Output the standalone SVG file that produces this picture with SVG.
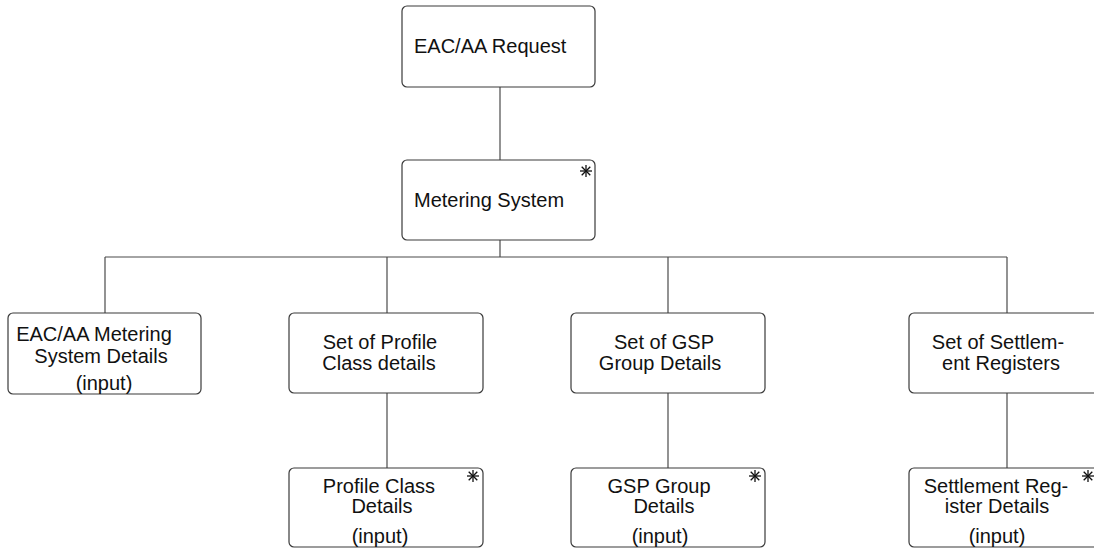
<svg xmlns="http://www.w3.org/2000/svg" width="1094" height="548" viewBox="0 0 1094 548">
<style>
.box{fill:#fff;stroke:#3a3a3a;stroke-width:1.2}
.t{font-family:"Liberation Sans",Arial,sans-serif;font-size:20px;fill:#111}
.m{text-anchor:middle}
.c{stroke:#4a4a4a;stroke-width:1.2;fill:none}
.ast{stroke:#111;stroke-width:1.3}
</style>
<defs>
<g id="star" class="ast">
<line x1="0" y1="-6" x2="0" y2="6"/>
<line x1="-6" y1="0" x2="6" y2="0"/>
<line x1="-4.3" y1="-4.3" x2="4.3" y2="4.3"/>
<line x1="-4.3" y1="4.3" x2="4.3" y2="-4.3"/>
</g>
</defs>
<rect width="1094" height="548" fill="#fff"/>
<g id="connectors">
<line class="c" x1="500" y1="87" x2="500" y2="160"/>
<line class="c" x1="500" y1="240" x2="500" y2="257"/>
<line class="c" x1="105" y1="257" x2="1007" y2="257"/>
<line class="c" x1="105" y1="257" x2="105" y2="313"/>
<line class="c" x1="387" y1="257" x2="387" y2="313"/>
<line class="c" x1="668" y1="257" x2="668" y2="313"/>
<line class="c" x1="1007" y1="257" x2="1007" y2="313"/>
<line class="c" x1="387" y1="393" x2="387" y2="468"/>
<line class="c" x1="668" y1="393" x2="668" y2="468"/>
<line class="c" x1="1007" y1="393" x2="1007" y2="468"/>
</g>
<g id="eac-aa-request">
<rect class="box" x="402" y="6" width="193" height="81" rx="5"/>
<text class="t" x="414" y="53">EAC/AA Request</text>
</g>
<g id="metering-system">
<rect class="box" x="402" y="160" width="193" height="80" rx="5"/>
<text class="t" x="414" y="207">Metering System</text>
<use href="#star" x="586" y="171"/>
</g>
<g id="eac-aa-metering-system-details">
<rect class="box" x="8" y="313" width="193" height="81" rx="5"/>
<text class="t m" x="94" y="341">EAC/AA Metering</text>
<text class="t m" x="101" y="363">System Details</text>
<text class="t m" x="104" y="390">(input)</text>
</g>
<g id="set-of-profile-class-details">
<rect class="box" x="289" y="313" width="194" height="80" rx="5"/>
<text class="t m" x="380" y="349">Set of Profile</text>
<text class="t m" x="379" y="370">Class details</text>
</g>
<g id="set-of-gsp-group-details">
<rect class="box" x="571" y="313" width="194" height="80" rx="5"/>
<text class="t m" x="664" y="349">Set of GSP</text>
<text class="t m" x="660" y="370">Group Details</text>
</g>
<g id="set-of-settlement-registers">
<rect class="box" x="909" y="313" width="194" height="80" rx="5"/>
<text class="t m" x="998" y="349">Set of Settlem-</text>
<text class="t m" x="1001" y="370">ent Registers</text>
</g>
<g id="profile-class-details">
<rect class="box" x="289" y="468" width="194" height="79" rx="5"/>
<text class="t m" x="379" y="493">Profile Class</text>
<text class="t m" x="382" y="513">Details</text>
<text class="t m" x="380" y="543">(input)</text>
<use href="#star" x="473" y="476"/>
</g>
<g id="gsp-group-details">
<rect class="box" x="571" y="468" width="194" height="79" rx="5"/>
<text class="t m" x="659" y="493">GSP Group</text>
<text class="t m" x="664" y="513">Details</text>
<text class="t m" x="660" y="543">(input)</text>
<use href="#star" x="755" y="476"/>
</g>
<g id="settlement-register-details">
<rect class="box" x="909" y="468" width="194" height="79" rx="5"/>
<text class="t m" x="996" y="493">Settlement Reg-</text>
<text class="t m" x="997" y="513">ister Details</text>
<text class="t m" x="997" y="543">(input)</text>
<use href="#star" x="1088" y="476"/>
</g>
</svg>
